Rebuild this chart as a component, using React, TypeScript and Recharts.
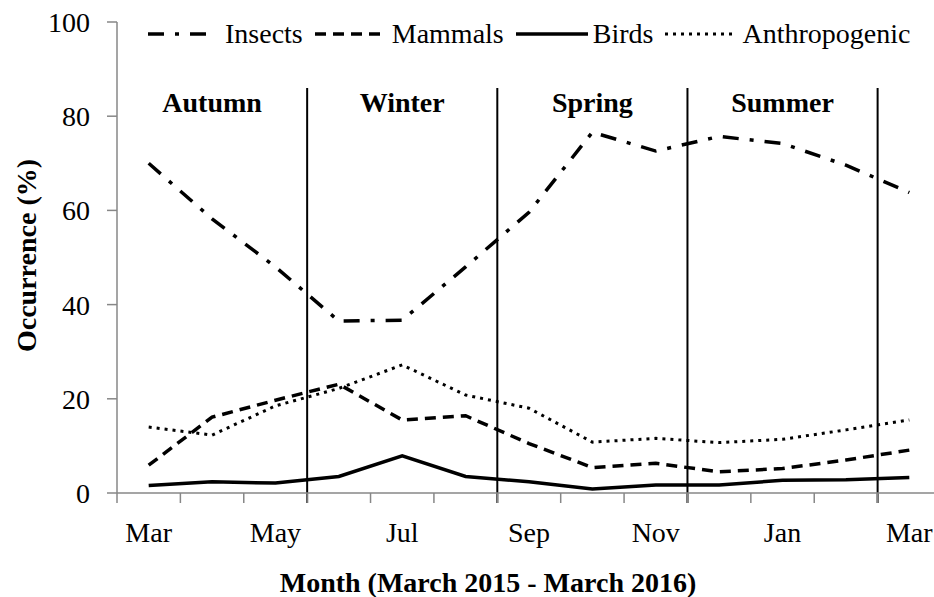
import React from 'react';
import { LineChart, Line, XAxis, YAxis, ReferenceLine, Legend } from 'recharts';

// ---------- data ----------
const monthLabels = ['Mar', 'Apr', 'May', 'Jun', 'Jul', 'Aug', 'Sep', 'Oct', 'Nov', 'Dec', 'Jan', 'Feb', 'Mar'];
const insects = [70.0, 58.2, 48.0, 36.5, 36.7, 48.0, 59.6, 76.6, 72.6, 75.7, 74.2, 69.6, 63.8];
const mammals = [5.9, 16.1, 19.7, 23.1, 15.5, 16.4, 10.5, 5.4, 6.3, 4.5, 5.2, 7.0, 9.1];
const birds = [1.6, 2.4, 2.1, 3.5, 7.9, 3.5, 2.4, 0.85, 1.7, 1.7, 2.7, 2.8, 3.3];
const anthropogenic = [14.0, 12.3, 18.5, 22.2, 27.2, 20.8, 18.0, 10.8, 11.6, 10.7, 11.4, 13.4, 15.5];
const seasons = ['Autumn', 'Winter', 'Spring', 'Summer'];
const seasonCentres = [1, 4, 7, 10];
const seasonBoundaries = [2.5, 5.5, 8.5, 11.5];
const labelledMonths = [0, 2, 4, 6, 8, 10, 12];
const tickMarks = [-0.5, 0.5, 1.5, 2.5, 3.5, 4.5, 5.5, 6.5, 7.5, 8.5, 9.5, 10.5, 11.5, 12.5];
const yTicks = [0, 20, 40, 60, 80, 100];

const data = monthLabels.map((m, i) => ({
  i,
  month: m,
  insects: insects[i],
  mammals: mammals[i],
  birds: birds[i],
  anthropogenic: anthropogenic[i],
}));

const xTicks = [...tickMarks, ...labelledMonths].sort((a, b) => a - b);

// ---------- style ----------
const FONT = '"Liberation Serif", "Times New Roman", serif';
const AXIS = '#878787';
const FS = 28;
const DIVIDER_TOP = 86;
const DIVIDER_BOTTOM = -2.1;

const series = [
  { key: 'insects', name: 'Insects', dash: '16 11 4 11', width: 3.5, legendLen: 60 },
  { key: 'mammals', name: 'Mammals', dash: '11 7', width: 3.5, legendLen: 72 },
  { key: 'birds', name: 'Birds', dash: undefined as string | undefined, width: 3.5, legendLen: 72 },
  { key: 'anthropogenic', name: 'Anthropogenic', dash: '3 5', width: 3, legendLen: 72 },
];

const XTick = (props: any) => {
  const { x, y, payload } = props;
  const v = payload.value;
  if (!Number.isInteger(v)) {
    return <line x1={x} x2={x} y1={y} y2={y + 10} stroke={AXIS} strokeWidth={1.5} />;
  }
  return (
    <text x={x} y={y + 49} textAnchor="middle" fontSize={FS} fontFamily={FONT} fill="#000">
      {monthLabels[v]}
    </text>
  );
};

const XTitle = (props: any) => {
  const vb = props.viewBox;
  return (
    <text
      x={vb.x + vb.width / 2 - 41}
      y={vb.y + vb.height - 5}
      textAnchor="middle"
      fontSize={FS}
      fontWeight="bold"
      fontFamily={FONT}
      fill="#000"
    >
      Month (March 2015 - March 2016)
    </text>
  );
};

const YTitle = (props: any) => {
  const vb = props.viewBox;
  const cx = vb.x + 26;
  const cy = vb.y + vb.height / 2 - 2;
  return (
    <text
      x={cx}
      y={cy}
      transform={`rotate(-90, ${cx}, ${cy})`}
      textAnchor="middle"
      dominantBaseline="central"
      fontSize={FS}
      fontWeight="bold"
      fontFamily={FONT}
      fill="#000"
    >
      Occurrence (%)
    </text>
  );
};

const LegendContent = () => (
  <div
    style={{
      display: 'flex',
      alignItems: 'center',
      fontFamily: FONT,
      fontSize: FS,
      lineHeight: '32px',
      color: '#000',
      whiteSpace: 'nowrap',
    }}
  >
    {series.map((s, k) => (
      <div key={s.key} style={{ display: 'flex', alignItems: 'center', marginLeft: k ? 12 : 0 }}>
        <svg width={72} height={32} style={{ display: 'block' }}>
          <line x1={0} x2={s.legendLen} y1={16} y2={16} stroke="#000" strokeWidth={s.width} strokeDasharray={s.dash} />
        </svg>
        <span style={{ marginLeft: 5 }}>{s.name}</span>
      </div>
    ))}
  </div>
);

export default function App() {
  return (
    <div
      style={{
        position: 'absolute',
        left: 0,
        top: 0,
        width: 934,
        height: 597,
        overflow: 'hidden',
        background: '#fff',
      }}
    >
      <LineChart width={941} height={597} data={data} margin={{ top: 22, right: 0, bottom: 0, left: 0 }}>
        <XAxis
          dataKey="i"
          type="number"
          domain={[-0.5, 12.5]}
          allowDataOverflow
          ticks={xTicks}
          interval={0}
          tickLine={false}
          tickSize={0}
          tickMargin={0}
          tick={<XTick />}
          axisLine={{ stroke: AXIS, strokeWidth: 1.5 }}
          height={104}
          label={{ content: XTitle } as any}
        />
        <YAxis
          domain={[0, 100]}
          ticks={yTicks}
          width={117}
          tickSize={10}
          tickMargin={17}
          tick={{ fontSize: FS, fill: '#000', fontFamily: FONT }}
          tickLine={{ stroke: AXIS, strokeWidth: 1.5 }}
          axisLine={{ stroke: AXIS, strokeWidth: 1.5 }}
          label={{ content: YTitle } as any}
        />
        {seasonCentres.map((c, k) => (
          <ReferenceLine
            key={'s' + k}
            x={c}
            stroke="none"
            label={{
              value: seasons[k],
              position: 'insideTop',
              offset: 70,
              fontSize: FS,
              fontWeight: 'bold',
              fontFamily: FONT,
              fill: '#000',
            }}
          />
        ))}
        {seasonBoundaries.map((b, k) => (
          <ReferenceLine
            key={'b' + k}
            segment={[
              { x: b, y: DIVIDER_TOP },
              { x: b, y: DIVIDER_BOTTOM },
            ]}
            stroke="#000"
            strokeWidth={2}
            ifOverflow="visible"
          />
        ))}
        {series.map((s) => (
          <Line
            key={s.key}
            dataKey={s.key}
            name={s.name}
            type="linear"
            stroke="#000"
            strokeWidth={s.width}
            strokeDasharray={s.dash}
            dot={false}
            activeDot={false}
            isAnimationActive={false}
          />
        ))}
        <Legend
          layout="horizontal"
          verticalAlign="middle"
          align="center"
          wrapperStyle={{ top: 18, left: 148, width: 'auto', height: 'auto' }}
          content={LegendContent}
        />
      </LineChart>
    </div>
  );
}
